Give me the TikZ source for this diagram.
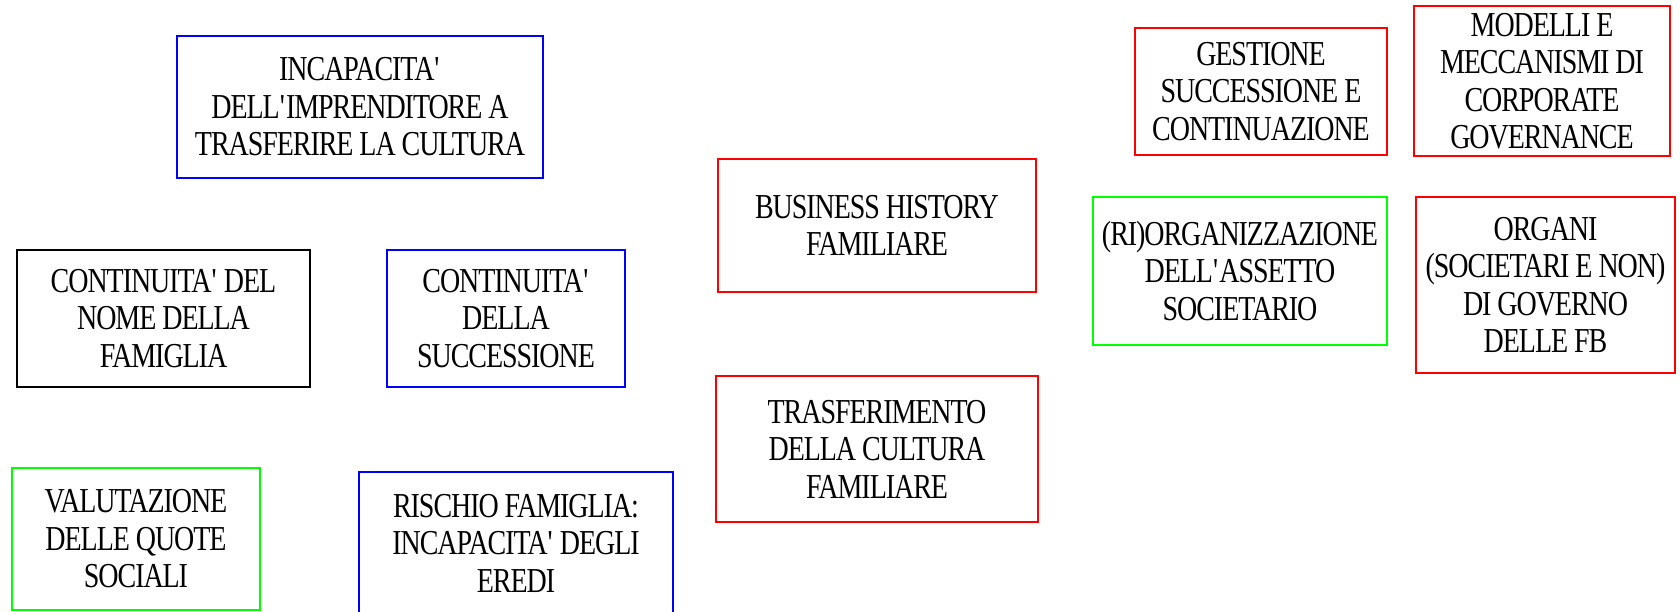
\documentclass[tikz,border=0pt]{standalone}
\usepackage{fontspec}
\setmainfont{Liberation Serif}[FakeStretch=0.80,LetterSpace=-3]
\definecolor{pblue}{RGB}{0,0,255}
\definecolor{pred}{RGB}{255,0,0}
\definecolor{pgreen}{RGB}{0,255,0}
\newcommand\ap{\textquotesingle}
\begin{document}
\begin{tikzpicture}[x=1pt,y=-1pt,
  cbox/.style={draw, line width=1.8pt, inner sep=0pt, align=center,
    font=\fontsize{35}{37.5}\selectfont, text=black}]
\useasboundingbox (0,0) rectangle (1680,612);
\clip (0,0) rectangle (1680,612);
\fill[white] (0,0) rectangle (1680,612);
% left column
\node[cbox, draw=pblue, minimum width=366pt, minimum height=142pt] (inc) at (360,107)
  {INCAPACITA\ap\\DELL\ap IMPRENDITORE A\\TRASFERIRE LA CULTURA};
\node[cbox, draw=black, minimum width=293pt, minimum height=137pt] (nome) at (163.5,318.5)
  {CONTINUITA\ap{} DEL\\NOME DELLA\\FAMIGLIA};
\node[cbox, draw=pblue, minimum width=238pt, minimum height=137pt] (succ) at (506,318.5)
  {CONTINUITA\ap\\DELLA\\SUCCESSIONE};
\node[cbox, draw=pgreen, minimum width=248pt, minimum height=142pt] (val) at (136,539)
  {VALUTAZIONE\\DELLE QUOTE\\SOCIALI};
\node[cbox, draw=pblue, minimum width=314pt, minimum height=142pt] (risc) at (516,543)
  {RISCHIO FAMIGLIA:\\INCAPACITA\ap{} DEGLI\\EREDI};
% middle column
\node[cbox, draw=pred, minimum width=318pt, minimum height=133pt] (bus) at (877,225.5)
  {BUSINESS HISTORY\\FAMILIARE};
\node[cbox, draw=pred, minimum width=322pt, minimum height=146pt] (tras) at (877,449)
  {TRASFERIMENTO\\DELLA CULTURA\\FAMILIARE};
% right area
\node[cbox, draw=pred, minimum width=252pt, minimum height=127pt] (gest) at (1261,91.5)
  {GESTIONE\\SUCCESSIONE E\\CONTINUAZIONE};
\node[cbox, draw=pred, minimum width=256pt, minimum height=150pt] (mod) at (1542,81)
  {MODELLI E\\MECCANISMI DI\\CORPORATE\\GOVERNANCE};
\node[cbox, draw=pgreen, minimum width=294pt, minimum height=148pt] (riorg) at (1240,271)
  {(RI)ORGANIZZAZIONE\\DELL\ap ASSETTO\\SOCIETARIO};
\node[cbox, draw=pred, minimum width=259pt, minimum height=176pt] (org) at (1545.5,285)
  {ORGANI\\(SOCIETARI E NON)\\DI GOVERNO\\DELLE FB};
\end{tikzpicture}
\end{document}
